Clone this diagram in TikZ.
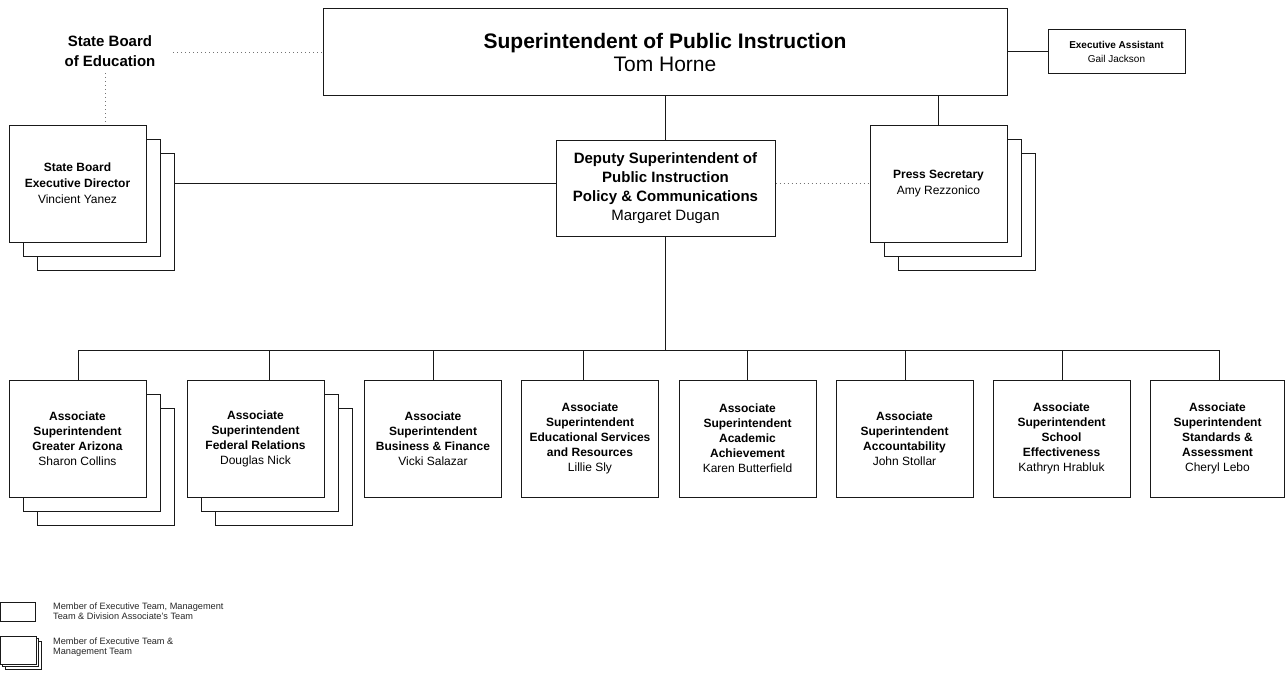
\documentclass[tikz,border=0pt]{standalone}
\usepackage{fontspec}
\setmainfont{Liberation Sans}
\begin{document}
\begin{tikzpicture}[x=1pt,y=-1pt,
  ln/.style={draw=black!90, line width=1pt},
  dots/.style={draw=black!55, line width=0.9pt, dash pattern=on 1pt off 3pt},
  box/.style={ln, fill=white, inner sep=0pt, align=center, minimum width=137pt, minimum height=117pt,
    font=\fontsize{12}{15}\selectfont},
  back/.style={box},
  legbox/.style={draw=black!90, line width=0.8pt, fill=white, inner sep=0pt},
  legtext/.style={anchor=west, align=left, inner sep=0pt, text=black!85, font=\fontsize{9.2}{10.5}\selectfont}
]
\useasboundingbox (0,0) rectangle (1286,677);

% top
\node[ln, inner sep=0pt, minimum width=684pt, minimum height=87pt, align=center,
  font=\fontsize{21}{23}\selectfont] (sup) at (665,52.5)
  {\textbf{Superintendent of Public Instruction}\\Tom Horne};
\node[align=center, inner sep=0pt, font=\fontsize{15}{20}\selectfont\bfseries] (sbe) at (110,51)
  {State Board\\of Education};
\node[ln, inner sep=0pt, minimum width=137pt, minimum height=44pt, align=center,
  font=\fontsize{10}{14}\selectfont] (ea) at (1116.5,52)
  {\textbf{Executive Assistant}\\Gail Jackson};

% State Board Executive Director stack
\node[back] (sbedC) at (105.5,211.5) {};
\node[back] (sbedB) at (91.5,197.5) {};
\node[box, font=\fontsize{12}{16}\selectfont] (sbed) at (77.5,183.5)
  {\textbf{State Board}\\\textbf{Executive Director}\\Vincient Yanez};

% Deputy
\node[ln, fill=white, inner sep=0pt, minimum width=219pt, minimum height=96pt, align=center,
  font=\fontsize{15}{19}\selectfont] (dep) at (665.5,188)
  {\textbf{Deputy Superintendent of}\\\textbf{Public Instruction}\\\textbf{Policy \& Communications}\\Margaret Dugan};

% Press Secretary stack
\node[back] (pressC) at (966.5,211.5) {};
\node[back] (pressB) at (952.5,197.5) {};
\node[box, font=\fontsize{12}{16}\selectfont] (press) at (938.5,183.5)
  {\textbf{Press Secretary}\\Amy Rezzonico};

% bottom row
\node[back] (b1C) at (105.5,466.5) {};
\node[back] (b1B) at (91.5,452.5) {};
\node[box] (b1) at (77.5,438.5)
  {\textbf{Associate}\\\textbf{Superintendent}\\\textbf{Greater Arizona}\\Sharon Collins};
\node[back] (b2C) at (283.5,466.5) {};
\node[back] (b2B) at (269.5,452.5) {};
\node[box] (b2) at (255.5,438.5)
  {\textbf{Associate}\\\textbf{Superintendent}\\\textbf{Federal Relations}\\Douglas Nick};
\node[box] (b3) at (433,438.5)
  {\textbf{Associate}\\\textbf{Superintendent}\\\textbf{Business \& Finance}\\Vicki Salazar};
\node[box] (b4) at (590,438.5)
  {\textbf{Associate}\\\textbf{Superintendent}\\\textbf{Educational Services}\\\textbf{and Resources}\\Lillie Sly};
\node[box] (b5) at (747.5,438.5)
  {\textbf{Associate}\\\textbf{Superintendent}\\\textbf{Academic}\\\textbf{Achievement}\\Karen Butterfield};
\node[box] (b6) at (904.5,438.5)
  {\textbf{Associate}\\\textbf{Superintendent}\\\textbf{Accountability}\\John Stollar};
\node[box] (b7) at (1061.5,438.5)
  {\textbf{Associate}\\\textbf{Superintendent}\\\textbf{School}\\\textbf{Effectiveness}\\Kathryn Hrabluk};
\node[box, minimum width=134pt] (b8) at (1217.5,438.5)
  {\textbf{Associate}\\\textbf{Superintendent}\\\textbf{Standards \&}\\\textbf{Assessment}\\Cheryl Lebo};

% connectors
\coordinate (sbeR) at (173,52);
\coordinate (sbeB) at (105,73);
\draw[dots] (sbeR) -- (sup.west |- sbeR);
\draw[dots] (sbeB) -- (sbeB |- sbed.north);
\draw[ln] (sup.east |- ea.west) -- (ea.west);
\draw[ln] (sup.south -| dep.north) -- (dep.north);
\draw[ln] (sup.south -| press.north) -- (press.north);
\draw[ln] (sbed.east -| sbedC.east) -- (sbed.east -| dep.west);
\draw[dots] (press.west -| dep.east) -- (press.west);

\coordinate (bus) at (665.5,350);
\draw[ln] (dep.south) -- (bus);
\coordinate (d1) at (78,350);
\coordinate (d2) at (269,350);
\coordinate (d3) at (433,350);
\coordinate (d4) at (583,350);
\coordinate (d5) at (747,350);
\coordinate (d6) at (905,350);
\coordinate (d7) at (1062,350);
\coordinate (d8) at (1219,350);
\draw[ln] (d1) -- (d8);
\draw[ln] (d1) -- (d1 |- b1.north);
\draw[ln] (d2) -- (d2 |- b2.north);
\draw[ln] (d3) -- (d3 |- b3.north);
\draw[ln] (d4) -- (d4 |- b4.north);
\draw[ln] (d5) -- (d5 |- b5.north);
\draw[ln] (d6) -- (d6 |- b6.north);
\draw[ln] (d7) -- (d7 |- b7.north);
\draw[ln] (d8) -- (d8 |- b8.north);

% legend
\node[legbox, minimum width=35pt, minimum height=19pt] (leg1) at (18,611.5) {};
\node[legtext] (leg1t) at (53,611) {Member of Executive Team, Management\\Team \& Division Associate's Team};
\node[legbox, minimum width=36pt, minimum height=28pt] (leg2C) at (23,655) {};
\node[legbox, minimum width=36pt, minimum height=28pt] (leg2B) at (20.5,652.5) {};
\node[legbox, minimum width=36pt, minimum height=28pt] (leg2) at (18,650) {};
\node[legtext] (leg2t) at (53,647) {Member of Executive Team \&\\Management Team};
\end{tikzpicture}
\end{document}
